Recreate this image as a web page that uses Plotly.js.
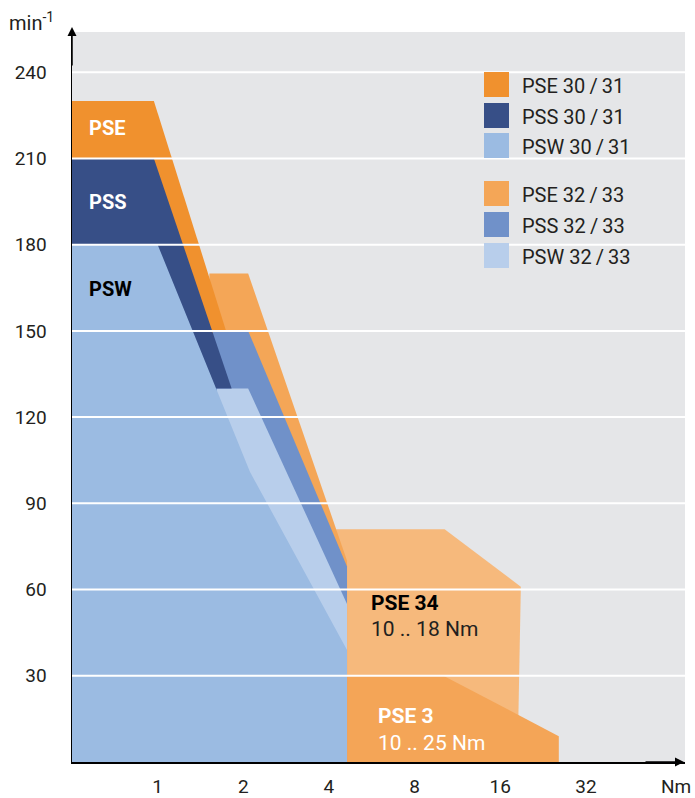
<!DOCTYPE html>
<html>
<head>
<meta charset="utf-8">
<script src="https://cdn.plot.ly/plotly-3.0.1.min.js"></script>
<style>
  html, body { margin: 0; padding: 0; background: #ffffff; }
  #chart { width: 695px; height: 798px; }
</style>
</head>
<body>
<div id="chart"></div>
<script>
// ---------- DATA (torque in Nm, speed in min^-1) ----------
const xTickVals = [1, 2, 4, 8, 16, 32];
const xTickText = ["1", "2", "4", "8", "16", "32"];
const yTickVals = [30, 60, 90, 120, 150, 180, 210, 240];

// polygons (draw order: back to front)
const pse34_T   = [4.24, 10.2, 18.9, 18.4, 4.24];
const pse34_n   = [81, 81, 61, 0, 0];
const pse3_T    = [4.63, 10.1, 25.7, 25.7, 4.63];
const pse3_n    = [30, 30, 9, 0, 0];
const pse3233_T = [1.52, 2.08, 4.63, 4.63, 1.52];
const pse3233_n = [170, 170, 70, 0, 0];
const pss3233_T = [1.565, 2.08, 4.63, 4.63, 1.565];
const pss3233_n = [150, 150, 68, 0, 0];
const psw3233_T = [1.617, 2.08, 4.63, 4.63, 1.617];
const psw3233_n = [130, 130, 55, 0, 0];
const pse3031_T = [0.5, 0.97, 1.74, 0.5];
const pse3031_n = [230, 230, 150, 150];
const pss3031_T = [0.5, 0.97, 1.82, 0.5];
const pss3031_n = [210, 210, 130, 130];
const psw3031_T = [0.5, 1.0, 2.11, 4.63, 4.63, 0.5];
const psw3031_n = [180, 180, 101, 39, 0, 0];

const legendNames  = ["PSE 30\u2009/\u200931", "PSS 30\u2009/\u200931", "PSW 30\u2009/\u200931",
                      "PSE 32\u2009/\u200933", "PSS 32\u2009/\u200933", "PSW 32\u2009/\u200933"];
const legendColors = ["#f0912e", "#374f87", "#9bbbe2", "#f4a657", "#7091c9", "#b8ceeb"];

// ---------- STYLE ----------
const C = {
  pse3031: "#f0912e", pss3031: "#374f87", psw3031: "#9bbbe2",
  pse3233: "#f4a657", pss3233: "#7091c9", psw3233: "#b8ceeb",
  pse34: "#f6b97c", pse3: "#f4a557", bg: "#e5e6e8", text: "#231f20"
};
const FONT = 'Roboto, "Liberation Sans", Arial, sans-serif';

function poly(T, n, color) {
  return { type: "scatter", mode: "lines", x: T, y: n, fill: "toself",
           fillcolor: color, line: { width: 0, color: color },
           hoverinfo: "skip", showlegend: false };
}

const traces = [
  poly(pse34_T, pse34_n, C.pse34),
  poly(pse3_T, pse3_n, C.pse3),
  poly(pse3233_T, pse3233_n, C.pse3233),
  poly(pss3233_T, pss3233_n, C.pss3233),
  poly(psw3233_T, psw3233_n, C.psw3233),
  poly(pse3031_T, pse3031_n, C.pse3031),
  poly(pss3031_T, pss3031_n, C.pss3031),
  poly(psw3031_T, psw3031_n, C.psw3031)
];

// plot box in pixels
const L = 72, R = 10, T0 = 32, B = 36, W = 695, H = 798;
const PW = W - L - R, PH = H - T0 - B;
const px = v => (v - L) / PW;
const py = v => (H - B - v) / PH;

const shapes = [];
yTickVals.forEach(v => shapes.push({
  type: "line", xref: "paper", yref: "y", x0: 0, x1: 1, y0: v, y1: v,
  line: { color: "#ffffff", width: 2 }, layer: "above"
}));

const annotations = [];
// legend
const legCenters = [84.5, 115.5, 145.5, 193.5, 224.5, 255.5];
legendNames.forEach((name, i) => {
  const c = legCenters[i];
  shapes.push({ type: "rect", xref: "paper", yref: "paper",
    x0: px(484), x1: px(509), y0: py(c + 12.5), y1: py(c - 12.5),
    fillcolor: legendColors[i], line: { width: 0 }, layer: "above" });
  annotations.push({ xref: "paper", yref: "paper", x: px(520), y: py(c + 1),
    xanchor: "left", yanchor: "middle", showarrow: false, text: name,
    font: { family: FONT, size: 20, color: C.text } });
});

function label(text, xp, yp, size, color, bold) {
  annotations.push({ xref: "paper", yref: "paper", x: px(xp), y: py(yp),
    xanchor: "left", yanchor: "middle", showarrow: false,
    text: bold ? "<b>" + text + "</b>" : text,
    font: { family: FONT, size: size, color: color } });
}
label("PSE", 87, 128, 20, "#ffffff", true);
label("PSS", 87, 202, 20, "#ffffff", true);
label("PSW", 87, 289, 20, "#000000", true);
label("PSE 34", 369, 603, 21, "#000000", true);
label("10 .. 18 Nm", 369, 629, 21, C.text, false);
label("PSE 3", 376, 716, 21, "#ffffff", true);
label("10 .. 25 Nm", 376, 743, 21, "#ffffff", false);

// axis unit labels
annotations.push({ xref: "paper", yref: "paper", x: px(7), y: py(22),
  xanchor: "left", yanchor: "middle", showarrow: false,
  text: "min<sup>-1</sup>", font: { family: FONT, size: 20, color: C.text } });
annotations.push({ xref: "paper", yref: "paper", x: px(692), y: py(787),
  xanchor: "right", yanchor: "middle", showarrow: false, borderpad: 0,
  text: "Nm", font: { family: FONT, size: 19, color: C.text } });

// axis arrows
annotations.push({ xref: "paper", yref: "paper", x: 0, y: py(27), ax: 0, ay: 40,
  text: "", showarrow: true, arrowhead: 2, arrowsize: 1.2, arrowwidth: 1.5, arrowcolor: "#000" });
annotations.push({ xref: "paper", yref: "paper", x: px(684), y: 0, ax: -40, ay: 0,
  text: "", showarrow: true, arrowhead: 2, arrowsize: 1.2, arrowwidth: 1.5, arrowcolor: "#000" });

const layout = {
  width: W, height: H,
  margin: { l: L, r: R, t: T0, b: B, pad: 0 },
  paper_bgcolor: "#ffffff",
  plot_bgcolor: C.bg,
  showlegend: false,
  font: { family: FONT, size: 19, color: C.text },
  xaxis: {
    type: "log",
    range: [Math.log10(0.5), Math.log10(Math.pow(2, 6.157))],
    tickvals: xTickVals, ticktext: xTickText,
    showgrid: false, zeroline: false,
    showline: true, linecolor: "#000", linewidth: 1.5,
    ticks: "", ticklabelstandoff: 7,
    tickfont: { family: FONT, size: 19, color: C.text },
    fixedrange: true
  },
  yaxis: {
    range: [0, 254],
    tickvals: yTickVals,
    showgrid: false, zeroline: false,
    showline: true, linecolor: "#000", linewidth: 1.5,
    ticks: "", ticklabelstandoff: 20,
    tickfont: { family: FONT, size: 19, color: C.text },
    fixedrange: true
  },
  shapes: shapes,
  annotations: annotations
};

Plotly.newPlot("chart", traces, layout, { staticPlot: true, displayModeBar: false });
</script>
</body>
</html>
